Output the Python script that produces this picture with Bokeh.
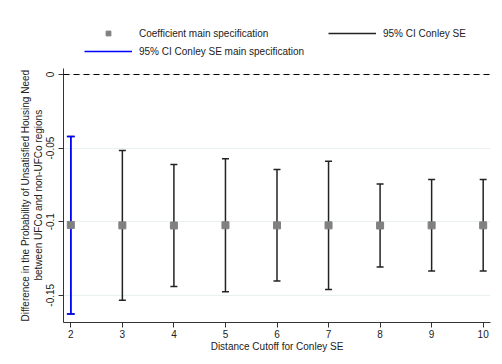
from bokeh.plotting import figure
from bokeh.models import (ColumnDataSource, FixedTicker, Span, Legend, LegendItem, Range1d, Title)
from bokeh.embed import file_html
from bokeh.resources import INLINE

# ---- data ----
cutoffs = [2, 3, 4, 5, 6, 7, 8, 9, 10]
estimates = [-0.1022, -0.1025, -0.1026, -0.1024, -0.1025, -0.1025, -0.1026, -0.1025, -0.1025]
ci_lower = [-0.1628, -0.1533, -0.1440, -0.1476, -0.1403, -0.1461, -0.1308, -0.1335, -0.1335]
ci_upper = [-0.0422, -0.0517, -0.0612, -0.0573, -0.0646, -0.0590, -0.0744, -0.0714, -0.0714]
main_cutoff = [2]
main_lower = [-0.1628]
main_upper = [-0.0422]

y_ticks = [0, -0.05, -0.1, -0.15]
y_tick_labels = ["0", "-0.05", "-0.1", "-0.15"]
x_ticks = cutoffs
x_tick_labels = [str(c) for c in cutoffs]
y_title_lines = ["Difference in the Probability of Unsatisfied Housing Need",
                 "between UFCo and non-UFCo regions"]

FONT = "Liberation Sans"
Y_BOTTOM, Y_AXIS_TOP, Y_FRAME_TOP = -0.1685, 0.0041, 0.0401

p = figure(width=502, height=364, output_backend="svg", toolbar_location=None,
           x_range=Range1d(1.858, 10.142), y_range=Range1d(Y_BOTTOM, Y_FRAME_TOP),
           min_border_left=63, min_border_right=12, min_border_top=15, min_border_bottom=42)
p.outline_line_color = None
p.background_fill_color = "white"
p.border_fill_color = "white"

# grids
p.xgrid.visible = False
p.ygrid.ticker = FixedTicker(ticks=y_ticks)
p.ygrid.grid_line_color = "#e9f0f1"
p.ygrid.grid_line_width = 1

# zero line
p.add_layout(Span(location=0, dimension="width", line_color="black",
                  line_width=1, line_dash="6 4"))

src = ColumnDataSource(dict(x=cutoffs, est=estimates, lo=ci_lower, hi=ci_upper))
msrc = ColumnDataSource(dict(x=main_cutoff, lo=main_lower, hi=main_upper))

ci_r = p.segment(x0="x", y0="lo", x1="x", y1="hi", source=src, line_color="#222222", line_width=1.5)
p.scatter(x="x", y="lo", source=src, marker="dash", size=7, line_color="#222222", line_width=1.5)
p.scatter(x="x", y="hi", source=src, marker="dash", size=7, line_color="#222222", line_width=1.5)

main_r = p.segment(x0="x", y0="lo", x1="x", y1="hi", source=msrc, line_color="#0000ff", line_width=1.5)
p.scatter(x="x", y="lo", source=msrc, marker="dash", size=8, line_color="#0000ff", line_width=1.5)
p.scatter(x="x", y="hi", source=msrc, marker="dash", size=8, line_color="#0000ff", line_width=1.5)

est_r = p.scatter(x="x", y="est", source=src, marker="square", size=7,
                  fill_color="#808080", line_color="#808080")

# axes
for ax in (p.xaxis[0], p.yaxis[0]):
    ax.axis_line_color = "#333333"
    ax.major_tick_line_color = "#333333"
    ax.minor_tick_line_color = None
    ax.major_tick_out = 5
    ax.major_tick_in = 0
    ax.major_label_text_font = FONT
    ax.major_label_text_font_size = "10px"
    ax.major_label_text_color = "#222222"
    ax.axis_label_text_font = FONT
    ax.axis_label_text_font_size = "10px"
    ax.axis_label_text_font_style = "normal"
    ax.axis_label_text_color = "#222222"

p.xaxis.ticker = FixedTicker(ticks=x_ticks)
p.xaxis.major_label_overrides = dict(zip(x_ticks, x_tick_labels))
p.xaxis.axis_label = "Distance Cutoff for Conley SE"
p.xaxis.major_label_standoff = 2
p.xaxis.axis_label_standoff = 0

p.yaxis.ticker = FixedTicker(ticks=y_ticks)
p.yaxis.bounds = (Y_BOTTOM, Y_AXIS_TOP)
p.yaxis.major_label_overrides = dict(zip(y_ticks, y_tick_labels))
p.yaxis.major_label_orientation = "vertical"
p.yaxis.major_label_standoff = 4

# y-axis title: two lines centred on the axis (not on the taller frame)
line_offsets = [1, 42]
for txt, off in zip(reversed(y_title_lines), reversed(line_offsets)):
    p.add_layout(Title(text=txt, align="left", offset=off, standoff=0,
                       text_font=FONT, text_font_size="10px",
                       text_font_style="normal", text_color="#222222"), "left")

legend = Legend(items=[
    LegendItem(label="Coefficient main specification", renderers=[est_r]),
    LegendItem(label="95% CI Conley SE", renderers=[ci_r]),
    LegendItem(label="95% CI Conley SE main specification", renderers=[main_r]),
], location=(21, 265), orientation="horizontal", ncols=2)
legend.border_line_color = None
legend.background_fill_alpha = 0
legend.padding = 0
legend.margin = 0
legend.spacing = 6
legend.glyph_width = 48
legend.glyph_height = 12
legend.label_height = 12
legend.label_width = 183
legend.label_standoff = 7
legend.label_text_font = FONT
legend.label_text_font_size = "10px"
legend.label_text_color = "#222222"
p.add_layout(legend, "center")

open("out.html", "w").write(file_html(p, INLINE))
